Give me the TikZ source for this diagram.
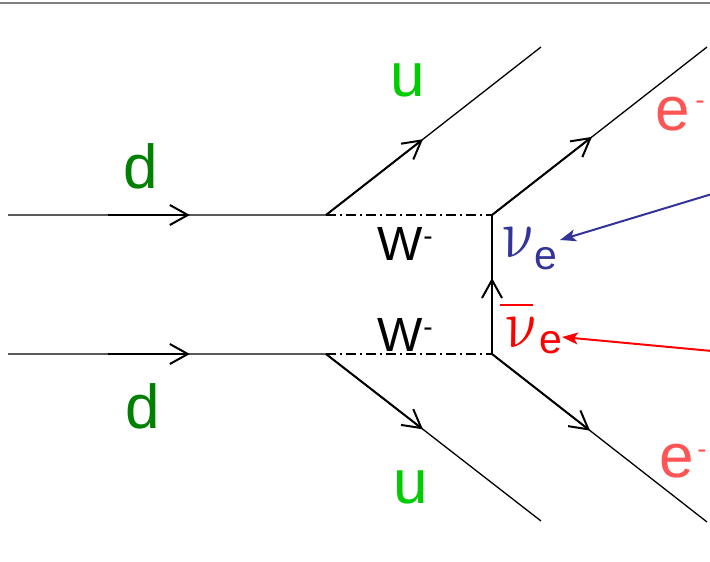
\documentclass[tikz,border=0pt]{standalone}
\usepackage{graphicx}
\usepackage{fontspec}
\setmainfont{Liberation Sans}
\usetikzlibrary{arrows.meta,calc}
\definecolor{dgreen}{RGB}{0,128,0}
\definecolor{ugreen}{RGB}{0,204,0}
\definecolor{ered}{RGB}{255,85,85}
\definecolor{nublue}{RGB}{51,51,153}
\definecolor{nured}{RGB}{255,0,0}
\definecolor{rulegray}{RGB}{128,128,128}
\newcommand{\nuglyph}{\tikz[baseline=(g.base)]\node[inner sep=0pt, outer sep=0pt, xslant=-0.2, transform shape] (g) {\scalebox{6.0}[6.9]{$\nu$}};}
\begin{document}
\begin{tikzpicture}[x=1pt,y=-1pt,
  prop/.style={line width=1.3pt},
  boson/.style={line width=1.3pt, dash pattern=on 10pt off 4pt on 2pt off 4pt},
  flow/.style={line width=2pt, -{Straight Barb[length=18pt,width=20pt]}},
  lbl/.style={inner sep=0pt, outer sep=0pt},
  big/.style={font=\fontsize{62}{62}\selectfont},
  wlbl/.style={font=\fontsize{48}{48}\selectfont},
  pointer/.style={line width=2pt,-{Stealth[length=16pt,width=12pt,inset=4pt]}}]
\useasboundingbox (0,0) rectangle (710,562);
\draw[rulegray, line width=2.4pt] (0,2.8) -- (710,2.8);
% vertices
\coordinate (dTin) at (8,215);
\coordinate (V1) at (326,215);
\coordinate (V2) at (492,215);
\coordinate (dBin) at (8,354);
\coordinate (V3) at (326,354);
\coordinate (V4) at (492,354);
\coordinate (uT) at (541,47);
\coordinate (uB) at (541,521);
\coordinate (eT) at (707,47);
\coordinate (eB) at (707,522);
% fermion lines
\draw[prop] (dTin) -- (V1) -- (uT);
\draw[prop] (dBin) -- (V3) -- (uB);
\draw[prop] (V2) -- (eT);
\draw[prop] (V4) -- (eB);
\draw[prop] (V4) -- (V2);
% W bosons
\draw[boson] (V1) -- (V2);
\draw[boson] (V3) -- (V4);
% flow arrows
\draw[flow] ($(dTin)!0.314!(V1)$) -- ($(dTin)!0.572!(V1)$);
\draw[flow] ($(dBin)!0.314!(V3)$) -- ($(dBin)!0.572!(V3)$);
\draw[flow] (V1) -- ($(V1)!0.451!(uT)$);
\draw[flow] (V3) -- ($(V3)!0.451!(uB)$);
\draw[flow] (V2) -- ($(V2)!0.465!(eT)$);
\draw[flow] (V4) -- ($(V4)!0.456!(eB)$);
\draw[flow] ($(V4)!0.331!(V2)$) -- ($(V4)!0.547!(V2)$);
% labels
\node[lbl, big, anchor=base, text=dgreen] (dT) at (141,188) {d};
\node[lbl, big, anchor=base, text=dgreen] (dB) at (143,428) {d};
\node[lbl, big, anchor=base, text=ugreen] (uTl) at (408,96) {u};
\node[lbl, big, anchor=base, text=ugreen] (uBl) at (411,503) {u};
\node[lbl, big, anchor=base west, text=ered] (eTl) at (655,130) {e\hspace{6pt}\raisebox{21pt}{\fontsize{28}{28}\selectfont -}};
\node[lbl, big, anchor=base west, text=ered] (eBl) at (659,477) {e\hspace{4pt}\raisebox{19pt}{\fontsize{28}{28}\selectfont -}};
\node[lbl, wlbl, anchor=base west] (WT) at (377,260) {W\hspace{1pt}\raisebox{15pt}{\fontsize{28}{28}\selectfont -}};
\node[lbl, wlbl, anchor=base west] (WB) at (377,351) {W\hspace{1pt}\raisebox{15pt}{\fontsize{28}{28}\selectfont -}};
\node[lbl, anchor=base west, text=nublue] (nue) at (500,257)
  {\nuglyph\hspace{-5pt}\raisebox{-12pt}{\fontsize{41}{41}\selectfont e}};
\node[lbl, anchor=base west, text=nured] (nuebar) at (503,347)
  {\rlap{\hspace{-3pt}\raisebox{41pt}{\rule{33pt}{2pt}}}\nuglyph\hspace{-3pt}\raisebox{-6pt}{\fontsize{41}{41}\selectfont e}};
% pointers
\coordinate (blueSrc) at (712,194);
\coordinate (blueTip) at (560,240);
\coordinate (redSrc) at (712,351);
\coordinate (redTip) at (562,337);
\draw[pointer, nublue] (blueSrc) -- (blueTip);
\draw[pointer, nured] (redSrc) -- (redTip);
\end{tikzpicture}
\end{document}
